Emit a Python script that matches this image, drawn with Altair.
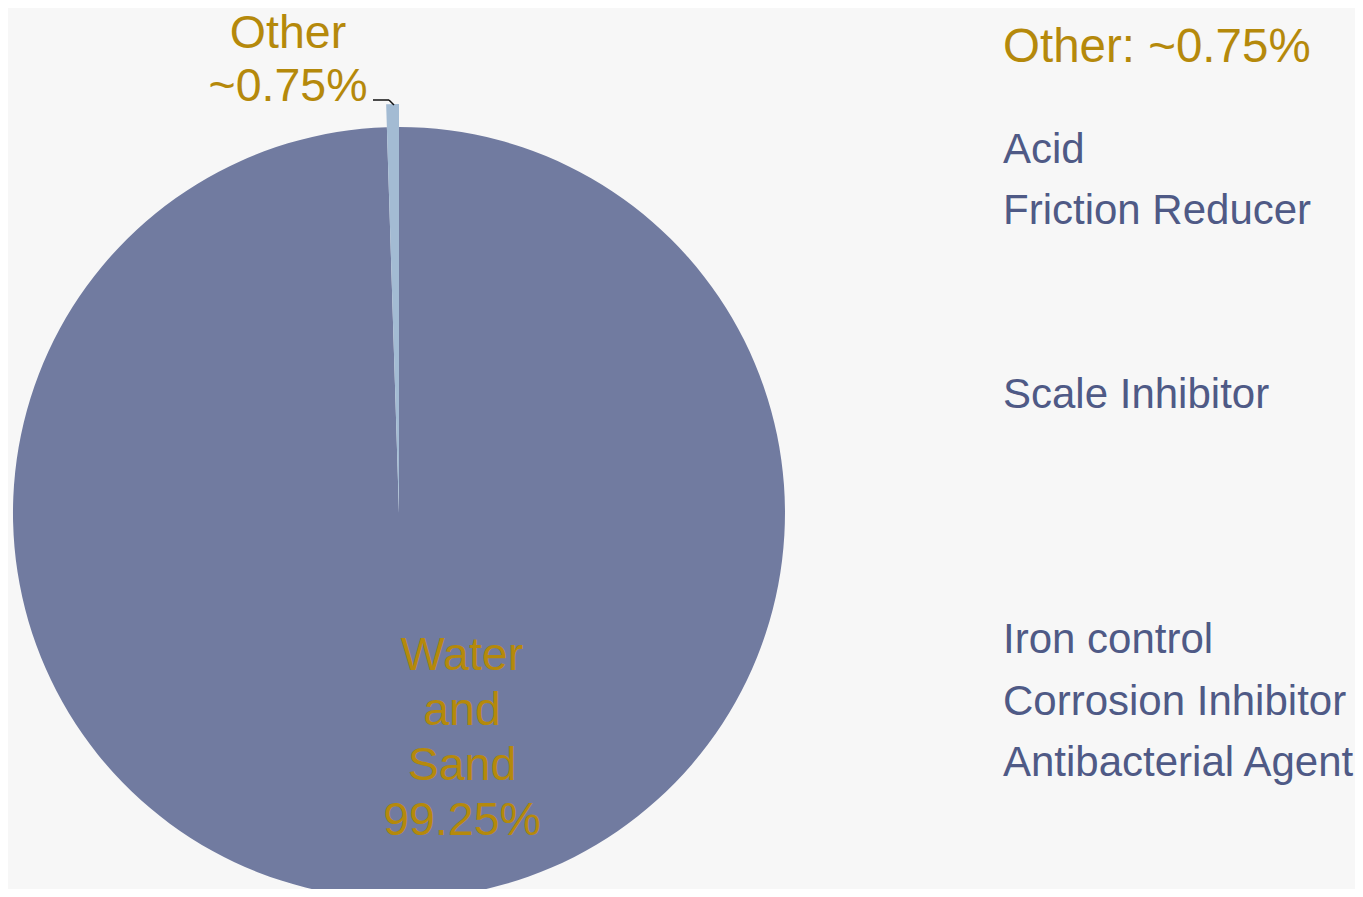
import altair as alt
import pandas as pd

# Pie data (slice shares as drawn)
categories = ["Water and Sand", "Other"]
shares = [99.5, 0.5]
slice_colors = ["#717BA0", "#A3BBD3"]

# Texts
water_label = ["Water", "and", "Sand", "99.25%"]
other_label = ["Other", "~0.75%"]
legend_title = "Other: ~0.75%"
legend_group1 = ["Acid", "Friction Reducer"]
legend_group2 = ["Scale Inhibitor"]
legend_group3 = ["Iron control", "Corrosion Inhibitor", "Antibacterial Agent"]

GOLD = "#B5890B"
NAVY = "#4F5A86"
FONT = "Liberation Sans"
LH = 61.3

pie_df = pd.DataFrame({"cat": categories, "share": shares,
                       "order": list(range(len(categories)))})

base = alt.Chart(pie_df).transform_stack(
    stack="share", groupby=[], as_=["v0", "v1"],
    sort=[alt.SortField("order", order="ascending")]
)

theta_scale = alt.Scale(domain=[0, 100])
color_scale = alt.Scale(domain=categories, range=slice_colors)

main_arc = base.transform_filter(alt.datum.cat == "Water and Sand").mark_arc(
    stroke=None
).encode(
    theta=alt.Theta("v0:Q", scale=theta_scale),
    theta2="v1:Q",
    color=alt.Color("cat:N", scale=color_scale, legend=None),
    x=alt.value(391), y=alt.value(505), radius=alt.value(386),
)

other_arc = base.transform_filter(alt.datum.cat == "Other").mark_arc(
    stroke=None
).encode(
    theta=alt.Theta("v0:Q", scale=theta_scale),
    theta2="v1:Q",
    color=alt.Color("cat:N", scale=color_scale, legend=None),
    x=alt.value(391), y=alt.value(505), radius=alt.value(409),
)

text_df = pd.DataFrame({"t": [0]})

water_text = alt.Chart(text_df).mark_text(
    text=water_label, font=FONT, fontSize=46.5, lineHeight=55,
    color=GOLD, align="center", baseline="alphabetic"
).encode(x=alt.value(454), y=alt.value(662))

other_text = alt.Chart(text_df).mark_text(
    text=other_label, font=FONT, fontSize=46.5, lineHeight=53,
    color=GOLD, align="center", baseline="alphabetic"
).encode(x=alt.value(280), y=alt.value(40))

title_text = alt.Chart(text_df).mark_text(
    text=legend_title, font=FONT, fontSize=47.5,
    color=GOLD, align="left", baseline="alphabetic"
).encode(x=alt.value(995), y=alt.value(54))


def legend_block(lines, y0):
    return alt.Chart(text_df).mark_text(
        text=lines, font=FONT, fontSize=42, lineHeight=LH,
        color=NAVY, align="left", baseline="alphabetic"
    ).encode(x=alt.value(995), y=alt.value(y0))


leg1 = legend_block(legend_group1, 155)
leg2 = legend_block(legend_group2, 155 + LH * 4)
leg3 = legend_block(legend_group3, 155 + LH * 8)

leader1 = alt.Chart(text_df).mark_rule(color="#111111", strokeWidth=1.5).encode(
    x=alt.value(365), x2=alt.value(381), y=alt.value(92), y2=alt.value(92))
leader2 = alt.Chart(text_df).mark_rule(color="#111111", strokeWidth=1.5).encode(
    x=alt.value(381), x2=alt.value(386), y=alt.value(92), y2=alt.value(97))

chart = alt.layer(
    main_arc, other_arc, leader1, leader2,
    water_text, other_text, title_text, leg1, leg2, leg3
).properties(
    width=1347, height=881, padding=0, autosize="none",
    background="#F7F7F7"
).configure_view(stroke=None)

chart.save("out.html", embed_options={"renderer": "svg", "actions": False})
